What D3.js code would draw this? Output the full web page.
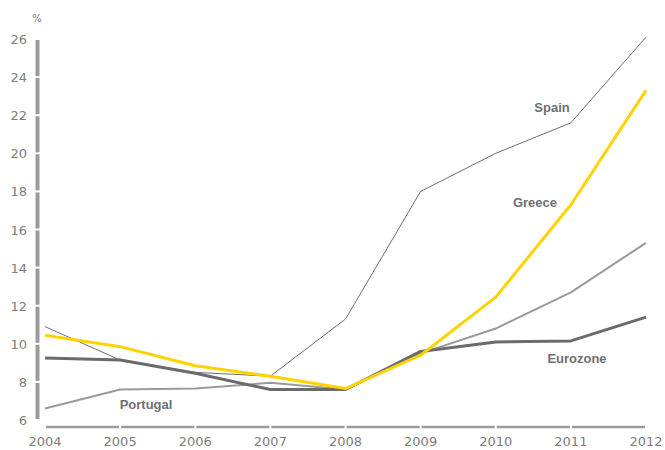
<!DOCTYPE html>
<html>
<head>
<meta charset="utf-8">
<script src="https://cdn.jsdelivr.net/npm/d3@7"></script>
<style>
  html, body { margin: 0; padding: 0; background: #fff; }
  svg { display: block; font-family: "Liberation Sans", Arial, sans-serif; }
  .tick-label { font-family: "DejaVu Sans", sans-serif; }
</style>
</head>
<body>
<svg id="chart" width="665" height="450"></svg>
<script>
// Unemployment rate, %
const years = [2004, 2005, 2006, 2007, 2008, 2009, 2010, 2011, 2012];
const spain    = [10.9, 9.15, 8.5, 8.3, 11.3, 18.0, 20.0, 21.6, 26.1];
const greece   = [10.45, 9.85, 8.85, 8.3, 7.65, 9.4, 12.45, 17.3, 23.3];
const portugal = [6.6, 7.6, 7.65, 7.95, 7.6, 9.5, 10.8, 12.7, 15.3];
const eurozone = [9.25, 9.15, 8.45, 7.6, 7.6, 9.6, 10.1, 10.15, 11.4];
const yTicks = [6, 8, 10, 12, 14, 16, 18, 20, 22, 24, 26];

const series = [
  { name: "Portugal", values: portugal, color: "#9a9a9a", width: 2,   label: [146, 409] },
  { name: "Spain",    values: spain,    color: "#6e6e6e", width: 1,   label: [552, 112] },
  { name: "Eurozone", values: eurozone, color: "#6b6b6b", width: 3,   label: [577, 363] },
  { name: "Greece",   values: greece,   color: "#ffd200", width: 3,   label: [535, 207] }
];

const svg = d3.select("#chart");
const x = d3.scaleLinear().domain([2004, 2012]).range([45, 646]);
const y = d3.scaleLinear().domain([6, 26]).range([420, 39]);

const axisColor = "#9b9b9b";
const textColor = "#7d7d7d";

// Unit label
svg.append("text").attr("class", "tick-label").attr("x", 37).attr("y", 22)
  .attr("text-anchor", "middle").attr("font-size", 10).attr("fill", textColor).text("%");

// Vertical axis: thick bar broken by small gaps at each tick
for (let i = 0; i < yTicks.length - 1; i++) {
  svg.append("line")
    .attr("x1", 37.5).attr("x2", 37.5)
    .attr("y1", y(yTicks[i]) - 1).attr("y2", y(yTicks[i + 1]) + 1)
    .attr("stroke", axisColor).attr("stroke-width", 4);
}
svg.append("g").selectAll("text").data(yTicks).join("text")
  .attr("class", "tick-label")
  .attr("x", 27).attr("y", d => y(d) + 5)
  .attr("text-anchor", "end").attr("font-size", 13).attr("fill", textColor)
  .text(d => d);

// Horizontal axis: bar broken at each year
const axisY = 427;
for (let i = 0; i < years.length - 1; i++) {
  svg.append("line")
    .attr("x1", x(years[i]) + 1).attr("x2", x(years[i + 1]) - 1)
    .attr("y1", axisY).attr("y2", axisY)
    .attr("stroke", axisColor).attr("stroke-width", 2.5);
}
svg.append("g").selectAll("text").data(years).join("text")
  .attr("class", "tick-label")
  .attr("x", d => x(d)).attr("y", 446)
  .attr("text-anchor", "middle").attr("font-size", 13).attr("fill", textColor)
  .text(d => d);

// Series lines
const line = d3.line().x((d, i) => x(years[i])).y(d => y(d));
svg.append("g").selectAll("path").data(series).join("path")
  .attr("d", d => line(d.values))
  .attr("fill", "none")
  .attr("stroke", d => d.color)
  .attr("stroke-width", d => d.width)
  .attr("stroke-linejoin", "round");

// Series names
svg.append("g").selectAll("text").data(series).join("text")
  .attr("x", d => d.label[0]).attr("y", d => d.label[1])
  .attr("text-anchor", "middle").attr("font-size", 13).attr("font-weight", "bold")
  .attr("fill", "#6f6f6f")
  .text(d => d.name);
</script>
</body>
</html>
